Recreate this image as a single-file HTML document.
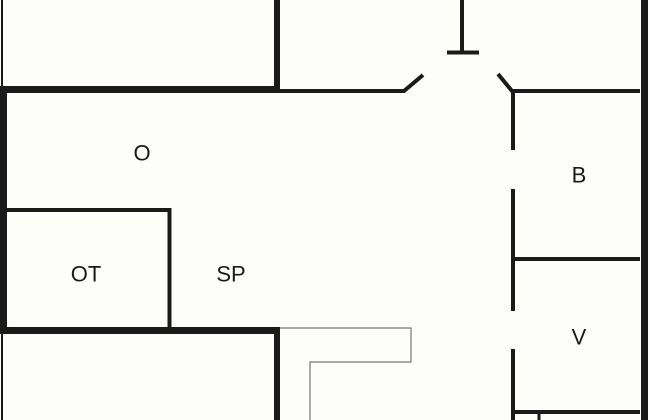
<!DOCTYPE html>
<html><head><meta charset="utf-8"><style>
html,body{margin:0;padding:0;background:#fdfdf9;}
svg{display:block}
text{font-family:"Liberation Sans",sans-serif;font-size:22px;fill:#1a1a1a;text-anchor:middle;dominant-baseline:central}
</style></head><body>
<svg width="650" height="420" viewBox="0 0 650 420" xmlns="http://www.w3.org/2000/svg">
<rect width="650" height="420" fill="#fdfdf9"/>
<g stroke="#1a1a1a" fill="none" stroke-linecap="butt">
<!-- thin left outlines -->
<line x1="2" y1="0" x2="2" y2="88" stroke-width="2"/>
<line x1="2" y1="332" x2="2" y2="420" stroke-width="2"/>
<!-- thick left wall -->
<line x1="3.5" y1="86" x2="3.5" y2="334" stroke-width="7"/>
<!-- top horizontal -->
<line x1="0" y1="89.5" x2="280" y2="89.5" stroke-width="7"/>
<line x1="277" y1="0" x2="277" y2="93" stroke-width="6"/>
<polyline points="280,91 404,91 423,75" stroke-width="4"/>
<polyline points="498,74 512,91 640,91" stroke-width="4"/>
<!-- T -->
<line x1="462" y1="0" x2="462" y2="53" stroke-width="4"/>
<line x1="447" y1="52.5" x2="479" y2="52.5" stroke-width="4"/>
<!-- right vertical partitions -->
<line x1="513" y1="91" x2="513" y2="150" stroke-width="4"/>
<line x1="513" y1="189" x2="513" y2="311" stroke-width="4"/>
<line x1="513" y1="349" x2="513" y2="420" stroke-width="4"/>
<line x1="513" y1="259" x2="640" y2="259" stroke-width="4"/>
<line x1="513" y1="412" x2="640" y2="412" stroke-width="4"/>
<line x1="539" y1="412" x2="539" y2="420" stroke-width="3"/>
<!-- right outer -->
<line x1="644.5" y1="0" x2="644.5" y2="420" stroke-width="7"/>
<!-- OT -->
<polyline points="7,210 169.5,210 169.5,330" stroke-width="4"/>
<line x1="0" y1="330.5" x2="280" y2="330.5" stroke-width="7"/>
<line x1="277" y1="327" x2="277" y2="420" stroke-width="6"/>
<!-- gray L -->
<polyline points="280,328 411,328 411,362 310,362 310,420" stroke="#777" stroke-width="1.2"/>
</g>
<text x="142" y="153">O</text>
<text x="86" y="274">OT</text>
<text x="231" y="274">SP</text>
<text x="579" y="175">B</text>
<text x="579" y="337">V</text>
</svg>
</body></html>
